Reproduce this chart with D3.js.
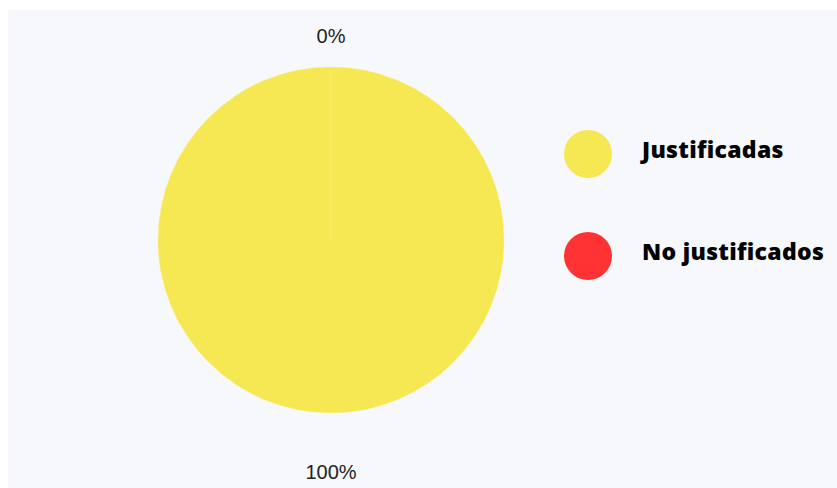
<!DOCTYPE html>
<html>
<head>
<meta charset="utf-8">
<script src="https://cdn.jsdelivr.net/npm/d3@7"></script>
<style>
  html, body { margin: 0; padding: 0; background: #ffffff; }
  svg { display: block; }
</style>
</head>
<body>
<svg id="chart" width="837" height="488"></svg>
<script>
// Attendance breakdown
const categories = ["Justificadas", "No justificados"];
const values = [100, 0];
const colors = ["#f5e853", "#ff3333"];

const W = 837, H = 488;
const svg = d3.select("#chart");

// panel background
svg.append("rect")
  .attr("x", 8).attr("y", 10)
  .attr("width", W - 8).attr("height", H - 10)
  .attr("fill", "#f7f8fc");

const cx = 331, cy = 240, radius = 173;
const data = categories.map((c, i) => ({ name: c, value: values[i] }));

const pie = d3.pie().value(d => d.value); // default descending sort
const arcs = pie(data);
const arc = d3.arc().innerRadius(0).outerRadius(radius);
const labelArc = d3.arc().innerRadius(218).outerRadius(218);
const color = d3.scaleOrdinal().domain(categories).range(colors);

const g = svg.append("g").attr("transform", `translate(${cx},${cy})`);

g.selectAll("path.slice")
  .data(arcs)
  .join("path")
  .attr("class", "slice")
  .attr("d", arc)
  .attr("fill", d => color(d.data.name))
  .attr("stroke", "#f7ee80")
  .attr("stroke-width", 0.4);

const fmt = d3.format(".0%");
const total = d3.sum(values);

g.selectAll("text.pct")
  .data(arcs)
  .join("text")
  .attr("class", "pct")
  .attr("x", d => labelArc.centroid(d)[0])
  .attr("y", d => labelArc.centroid(d)[1] + 14)
  .attr("dy", "0.35em")
  .attr("text-anchor", "middle")
  .attr("font-family", "'Liberation Sans', Arial, sans-serif")
  .attr("font-size", 20)
  .attr("fill", "#222222")
  .text(d => fmt(d.data.value / total));

// legend
const ly = d3.scalePoint().domain(categories).range([154, 256]);
const legend = svg.append("g");
const items = legend.selectAll("g.item")
  .data(categories)
  .join("g")
  .attr("class", "item")
  .attr("transform", c => `translate(0,${ly(c)})`);

items.append("circle")
  .attr("cx", 588)
  .attr("r", 24)
  .attr("fill", c => color(c));

items.append("text")
  .attr("x", 642)
  .attr("y", 4)
  .attr("font-family", "'Open Sans', sans-serif")
  .attr("font-weight", 800)
  .attr("font-size", 23)
  .attr("letter-spacing", 0.3)
  .attr("fill", "#000000")
  .text(c => c);
</script>
</body>
</html>
